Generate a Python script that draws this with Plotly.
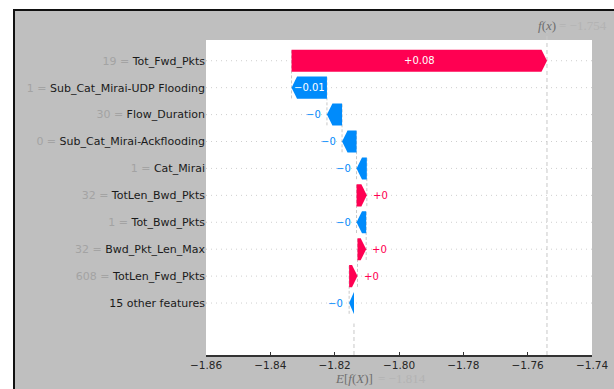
import plotly.graph_objects as go

# ---- data -------------------------------------------------------------
features = [
    "Tot_Fwd_Pkts",
    "Sub_Cat_Mirai-UDP Flooding",
    "Flow_Duration",
    "Sub_Cat_Mirai-Ackflooding",
    "Cat_Mirai",
    "TotLen_Bwd_Pkts",
    "Tot_Bwd_Pkts",
    "Bwd_Pkt_Len_Max",
    "TotLen_Fwd_Pkts",
    "15 other features",
]
feature_values = ["19", "1", "30", "0", "1", "32", "1", "32", "608", ""]
shap_values = [0.0794, -0.0110, -0.0047, -0.0045, -0.0032,
               0.0032, -0.0030, 0.0027, 0.0026, -0.0015]
base_value = -1.814
x_tick_vals = [-1.86, -1.84, -1.82, -1.80, -1.78, -1.76, -1.74]
x_tick_text = ["\u22121.86", "\u22121.84", "\u22121.82", "\u22121.80",
               "\u22121.78", "\u22121.76", "\u22121.74"]

# ---- style ------------------------------------------------------------
RED = "#ff0052"
BLUE = "#008bfb"
W, H = 614, 389
L, R, T, B = 206, 22, 40, 34
PW, PH = W - L - R, H - T - B
BAR_H = 0.41          # half height of each arrow (row units)
HEAD = 0.0017         # arrow head length (x units)


def px_x(p):
    return (p - L) / PW


def px_y(p):
    return (H - B - p) / PH


def fmt(v):
    s = f"{abs(v):.2f}".rstrip("0").rstrip(".")
    return ("+" if v >= 0 else "\u2212") + s


def fmt_plain(v):
    return ("\u2212" if v < 0 else "") + f"{abs(v):.3f}"


n = len(features)
rows = list(range(n - 1, -1, -1))          # top feature on the highest row
fx = base_value + sum(shap_values)

# cumulative start/end of each arrow, built from the bottom row upward
starts, ends = [0.0] * n, [0.0] * n
loc = base_value
for i in range(n - 1, -1, -1):
    starts[i] = loc
    loc += shap_values[i]
    ends[i] = loc

fig = go.Figure()

shapes = []
# white margin strips and dark frame around the grey canvas
shapes.append(dict(type="rect", xref="paper", yref="paper", layer="above",
                   x0=px_x(0), x1=px_x(W), y0=px_y(9), y1=px_y(0),
                   fillcolor="white", line_width=0))
shapes.append(dict(type="rect", xref="paper", yref="paper", layer="above",
                   x0=px_x(0), x1=px_x(13), y0=px_y(H), y1=px_y(0),
                   fillcolor="white", line_width=0))
shapes.append(dict(type="rect", xref="paper", yref="paper", layer="above",
                   x0=px_x(13), x1=px_x(W), y0=px_y(11), y1=px_y(9),
                   fillcolor="#111111", line_width=0))
shapes.append(dict(type="rect", xref="paper", yref="paper", layer="above",
                   x0=px_x(13), x1=px_x(15), y0=px_y(H), y1=px_y(9),
                   fillcolor="#111111", line_width=0))

# dotted row guides
for r in rows:
    shapes.append(dict(type="line", xref="paper", yref="y", layer="below",
                       x0=0, x1=1, y0=r, y1=r,
                       line=dict(color="#cfcfcf", width=1, dash="1px,4px")))

# dashed connectors between consecutive arrows
for i in range(n - 1):
    r = rows[i]
    shapes.append(dict(type="line", xref="x", yref="y", layer="below",
                       x0=starts[i], x1=starts[i], y0=r - 1 - 0.4, y1=r + 0.4,
                       line=dict(color="#c8c8c8", width=1, dash="3px,2px")))

# expected value and model output lines
shapes.append(dict(type="line", xref="x", yref="paper", layer="below",
                   x0=base_value, x1=base_value, y0=0, y1=0.1,
                   line=dict(color="#c8c8c8", width=1, dash="4px,3px")))
shapes.append(dict(type="line", xref="x", yref="paper", layer="below",
                   x0=fx, x1=fx, y0=0, y1=px_y(32),
                   line=dict(color="#c8c8c8", width=1, dash="4px,3px")))

annotations = []
for i in range(n):
    s, e, v, r = starts[i], ends[i], shap_values[i], rows[i]
    d = 1 if v >= 0 else -1
    hl = min(HEAD, abs(v))
    b = e - d * hl
    color = RED if v >= 0 else BLUE
    fig.add_trace(go.Scatter(
        x=[s, b, e, b, s, s],
        y=[r - BAR_H, r - BAR_H, r, r + BAR_H, r + BAR_H, r - BAR_H],
        mode="lines", fill="toself", fillcolor=color,
        line=dict(width=0, color=color), hoverinfo="skip", showlegend=False,
    ))
    width_px = abs(v) / (0.12 / PW)
    if width_px > 30:
        annotations.append(dict(x=(s + e) / 2, y=r, xref="x", yref="y",
                                text=fmt(v), showarrow=False,
                                font=dict(family="DejaVu Sans", size=10, color="white")))
    else:
        annotations.append(dict(x=e, y=r, xref="x", yref="y", text=fmt(v),
                                showarrow=False,
                                xanchor="left" if v >= 0 else "right",
                                xshift=4 if v >= 0 else -4,
                                font=dict(family="DejaVu Sans", size=10, color=color)))

# f(x) and E[f(X)] labels
label_font = dict(family="Liberation Serif", size=13)
annotations.append(dict(x=fx, y=px_y(26), xref="x", yref="paper", showarrow=False,
                        text="<i>f</i>(<i>x</i>)", xanchor="center", yanchor="middle",
                        font=dict(label_font, color="#6e6e6e")))
annotations.append(dict(x=fx, y=px_y(26), xref="x", yref="paper", showarrow=False,
                        text="= " + fmt_plain(fx), xanchor="left", yanchor="middle",
                        xshift=10, font=dict(label_font, color="#b3b3b3")))
annotations.append(dict(x=base_value, y=px_y(378), xref="x", yref="paper", showarrow=False,
                        text="<i>E</i>[<i>f</i>(<i>X</i>)]", xanchor="center", yanchor="middle",
                        font=dict(label_font, color="#6e6e6e")))
annotations.append(dict(x=base_value, y=px_y(378), xref="x", yref="paper", showarrow=False,
                        text="= " + fmt_plain(base_value), xanchor="left", yanchor="middle",
                        xshift=22, font=dict(label_font, color="#b3b3b3")))

tick_text = []
for f, fv in zip(features, feature_values):
    if fv:
        tick_text.append(f'<span style="color:#a3a3a3">{fv} = </span>{f}')
    else:
        tick_text.append(f)

fig.update_layout(
    width=W, height=H,
    margin=dict(l=L, r=R, t=T, b=B, pad=0),
    paper_bgcolor="#bfbfbf", plot_bgcolor="white",
    showlegend=False,
    shapes=shapes, annotations=annotations,
    xaxis=dict(range=[-1.86, -1.74], tickvals=x_tick_vals, ticktext=x_tick_text,
               automargin=False,
               showgrid=False, zeroline=False, showline=True, linecolor="#333333",
               linewidth=1.5, ticks="inside", ticklen=3, tickcolor="#333333",
               tickfont=dict(family="DejaVu Sans", size=10.5, color="#262626")),
    yaxis=dict(range=[-1.93, 9.77], tickvals=rows, ticktext=tick_text,
               automargin=False,
               showgrid=False, zeroline=False, showline=False, ticks="",
               tickfont=dict(family="DejaVu Sans", size=11, color="#1a1a1a")),
)

fig.write_html("out.html")
